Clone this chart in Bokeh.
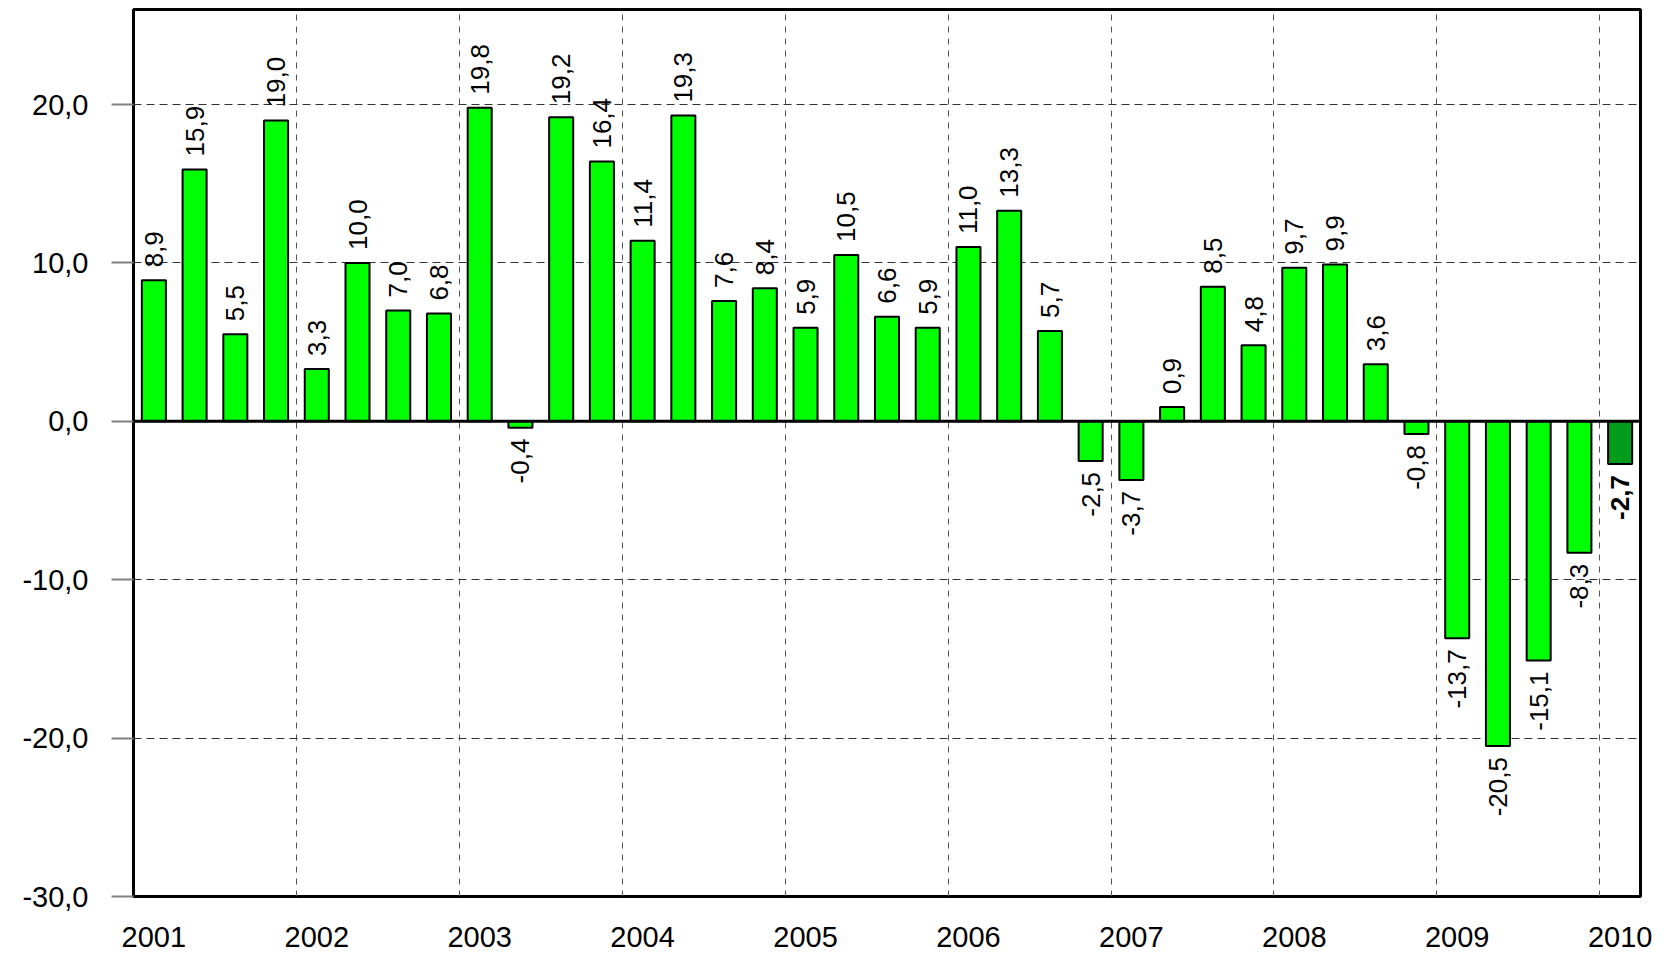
import math
from bokeh.plotting import figure
from bokeh.models import ColumnDataSource, Range1d, FixedTicker, CustomJSTickFormatter, Span
from bokeh.core.properties import value
from bokeh.embed import file_html
from bokeh.resources import INLINE

# ---- data ----
years = ["2001", "2002", "2003", "2004", "2005", "2006", "2007", "2008", "2009", "2010"]
growth = [8.9, 15.9, 5.5, 19.0,
          3.3, 10.0, 7.0, 6.8,
          19.8, -0.4, 19.2, 16.4,
          11.4, 19.3, 7.6, 8.4,
          5.9, 10.5, 6.6, 5.9,
          11.0, 13.3, 5.7, -2.5,
          -3.7, 0.9, 8.5, 4.8,
          9.7, 9.9, 3.6, -0.8,
          -13.7, -20.5, -15.1, -8.3,
          -2.7]
y_ticks = [-30, -20, -10, 0, 10, 20]

n = len(growth)
xs = [i + 0.5 for i in range(n)]
fills = ["#00FF00"] * (n - 1) + ["#009C1A"]
labels = [f"{v:.1f}".replace(".", ",") for v in growth]

p = figure(width=1671, height=957, output_backend="svg", toolbar_location=None,
           x_range=Range1d(0, n), y_range=Range1d(-30, 26),
           min_border_left=133, min_border_right=31, min_border_top=9, min_border_bottom=61)

p.background_fill_color = "white"
p.outline_line_color = "black"
p.outline_line_width = 3

# grids
p.xgrid.ticker = FixedTicker(ticks=[4 * k for k in range(len(years))])
p.xgrid.grid_line_color = "#555555"
p.xgrid.grid_line_dash = "6 6"
p.xgrid.grid_line_width = 1
p.ygrid.ticker = FixedTicker(ticks=y_ticks)
p.ygrid.grid_line_color = "#333333"
p.ygrid.grid_line_dash = "8 5"
p.ygrid.grid_line_width = 1

# x axis: year label under the first quarter of each year
year_pos = [4 * k + 0.5 for k in range(len(years))]
p.xaxis.ticker = FixedTicker(ticks=year_pos)
p.xaxis.major_label_overrides = {pos: y for pos, y in zip(year_pos, years)}
p.xaxis.major_tick_out = 0
p.xaxis.major_tick_in = 0
p.xaxis.minor_tick_out = 0
p.xaxis.minor_tick_in = 0
p.xaxis.axis_line_color = None
p.xaxis.major_label_standoff = 30
p.xaxis.major_label_text_font = "Liberation Sans"
p.xaxis.major_label_text_font_size = "29px"
p.xaxis.major_label_text_color = "black"

# y axis
p.yaxis.ticker = FixedTicker(ticks=y_ticks)
p.yaxis.formatter = CustomJSTickFormatter(code="return tick.toFixed(1).replace('.', ',');")
p.yaxis.major_tick_out = 22
p.yaxis.major_tick_in = 0
p.yaxis.major_tick_line_color = "#808080"
p.yaxis.major_tick_line_width = 2
p.yaxis.minor_tick_out = 0
p.yaxis.minor_tick_in = 0
p.yaxis.axis_line_color = None
p.yaxis.major_label_standoff = 23
p.yaxis.major_label_text_font = "Liberation Sans"
p.yaxis.major_label_text_font_size = "29px"
p.yaxis.major_label_text_color = "black"

src = ColumnDataSource(dict(x=xs, top=growth, fill=fills))
p.vbar(x="x", top="top", bottom=0, width=0.59, source=src,
       fill_color="fill", line_color="black", line_width=2)

p.add_layout(Span(location=0, dimension="width", line_color="black", line_width=3))

pos_i = [i for i in range(n) if growth[i] >= 0]
neg_i = [i for i in range(n - 1) if growth[i] < 0]

p.text(x=[xs[i] for i in pos_i], y=[growth[i] for i in pos_i], text=[labels[i] for i in pos_i],
       angle=math.pi / 2, text_align="left", text_baseline="middle", y_offset=-13,
       text_font=value("Liberation Sans"), text_font_size="26px", text_color="black")
p.text(x=[xs[i] for i in neg_i], y=[growth[i] for i in neg_i], text=[labels[i] for i in neg_i],
       angle=math.pi / 2, text_align="right", text_baseline="middle", y_offset=11,
       text_font=value("Liberation Sans"), text_font_size="26px", text_color="black")
p.text(x=[xs[n - 1]], y=[growth[n - 1]], text=[labels[n - 1]],
       angle=math.pi / 2, text_align="right", text_baseline="middle", y_offset=11,
       text_font=value("Liberation Sans"), text_font_size="26px", text_font_style="bold",
       text_color="black")

open("out.html", "w").write(file_html(p, INLINE))
